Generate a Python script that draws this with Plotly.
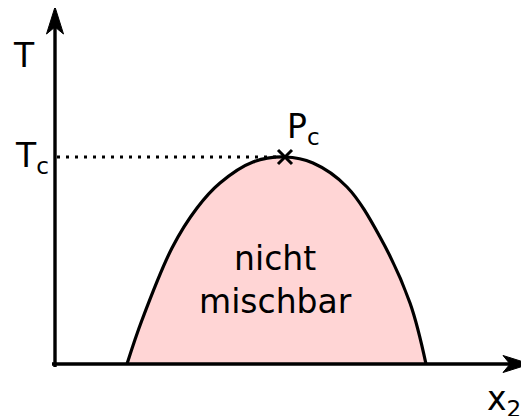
import plotly.graph_objects as go

# Miscibility gap curve (x2 composition, temperature) in arbitrary units
curve_x2 = [72, 87, 117, 142, 165, 198, 230, 258, 292, 325, 355, 371]
curve_T = [0, 44, 116, 156, 181, 202, 207, 201, 177, 127, 61, 0]

# critical point
pc_x2 = [230]
pc_T = [207]

# axis extents
x_axis_start, x_axis_end = -3, 475
y_axis_start, y_axis_end = -3, 357
head_len, head_half_w, head_notch = 27, 8.5, 20

font_family = "DejaVu Sans"
fsize = 33
axis_w = 3.4

fig = go.Figure()

fig.add_trace(go.Scatter(
    x=curve_x2, y=curve_T, mode="lines",
    line=dict(color="black", width=3.2, shape="spline", smoothing=1.0),
    fill="toself", fillcolor="#ffd5d5", hoverinfo="skip"))

fig.add_trace(go.Scatter(
    x=[2, pc_x2[0]], y=[pc_T[0], pc_T[0]], mode="lines",
    line=dict(color="black", width=3, dash="3px,6px"), hoverinfo="skip"))

fig.add_trace(go.Scatter(
    x=pc_x2, y=pc_T, mode="markers",
    marker=dict(symbol="x-thin", size=14, line=dict(color="black", width=3), color="black"),
    hoverinfo="skip"))

# axes lines
fig.add_trace(go.Scatter(
    x=[x_axis_start, x_axis_end - head_notch], y=[0, 0], mode="lines",
    line=dict(color="black", width=axis_w), hoverinfo="skip"))
fig.add_trace(go.Scatter(
    x=[0, 0], y=[y_axis_start, y_axis_end - head_notch], mode="lines",
    line=dict(color="black", width=axis_w), hoverinfo="skip"))

# arrow heads (built from axis ends)
fig.add_trace(go.Scatter(
    x=[x_axis_end, x_axis_end - head_len, x_axis_end - head_notch, x_axis_end - head_len, x_axis_end],
    y=[0, head_half_w, 0, -head_half_w, 0],
    mode="lines", fill="toself", fillcolor="black",
    line=dict(color="black", width=1), hoverinfo="skip"))
fig.add_trace(go.Scatter(
    x=[0, head_half_w, 0, -head_half_w, 0],
    y=[y_axis_end, y_axis_end - head_len, y_axis_end - head_notch, y_axis_end - head_len, y_axis_end],
    mode="lines", fill="toself", fillcolor="black",
    line=dict(color="black", width=1), hoverinfo="skip"))

annotations = [
    dict(x=-31.5, y=309, text="T", showarrow=False, font=dict(family=font_family, size=fsize, color="black")),
    dict(x=-4, y=207, text="T<sub>c</sub>", showarrow=False, xanchor="right", yanchor="middle",
         font=dict(family=font_family, size=fsize, color="black")),
    dict(x=230, y=236, text="P<sub>c</sub>", showarrow=False, xanchor="left", yanchor="middle",
         font=dict(family=font_family, size=fsize, color="black")),
    dict(x=220, y=84, text="nicht<br>mischbar", showarrow=False,
         font=dict(family=font_family, size=fsize, color="black")),
    dict(x=449, y=-36, text="x<sub>2</sub>", showarrow=False,
         font=dict(family=font_family, size=fsize, color="black")),
]

fig.update_layout(
    width=521, height=408,
    margin=dict(l=0, r=0, t=0, b=0),
    paper_bgcolor="white", plot_bgcolor="white",
    showlegend=False,
    xaxis=dict(range=[-47, 474], visible=False, fixedrange=True),
    yaxis=dict(range=[-52, 356], visible=False, fixedrange=True),
    annotations=annotations,
)

fig.write_html("out.html")
